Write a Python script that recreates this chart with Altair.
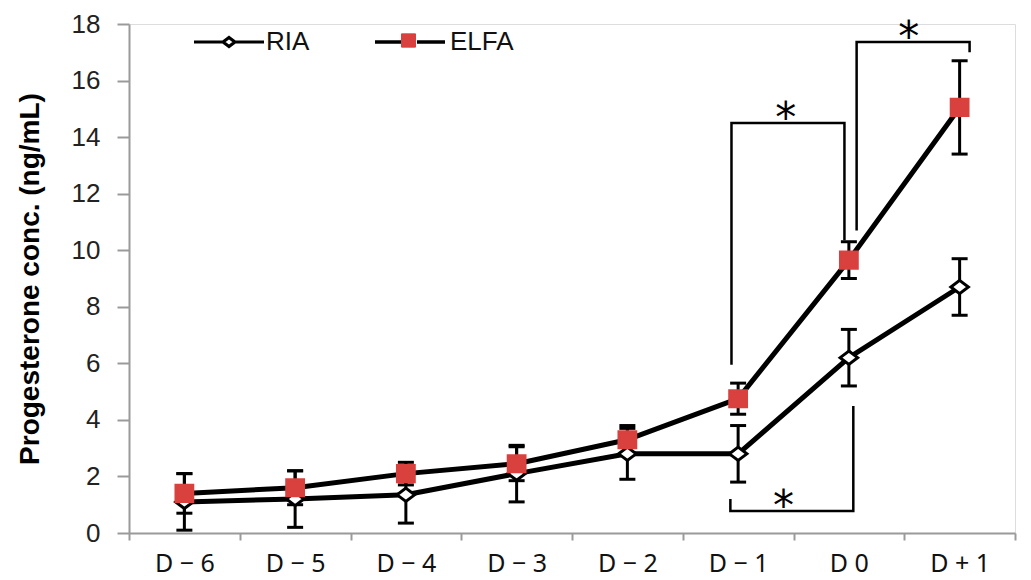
import altair as alt
import pandas as pd

# ---------------- data ----------------
days = ["D − 6", "D − 5", "D − 4", "D − 3", "D − 2", "D − 1", "D 0", "D + 1"]
series_names = ["RIA", "ELFA"]
ria_mean = [1.1, 1.2, 1.35, 2.1, 2.8, 2.8, 6.2, 8.7]
ria_err = [1.0, 1.0, 1.0, 1.0, 0.9, 1.0, 1.0, 1.0]
elfa_mean = [1.4, 1.6, 2.1, 2.45, 3.3, 4.75, 9.65, 15.05]
elfa_err = [0.7, 0.6, 0.4, 0.6, 0.5, 0.55, 0.65, 1.65]
y_ticks = [0, 2, 4, 6, 8, 10, 12, 14, 16, 18]

# significance brackets (x in day-index units, y in ng/mL)
bracket_x = [[4.94, 4.94, 5.96, 5.96], [6.07, 6.07, 7.09, 7.09], [4.93, 4.93, 6.04, 6.04]]
bracket_y = [[5.95, 14.5, 14.5, 10.35], [10.7, 17.36, 17.36, 17.0], [1.2, 0.78, 0.78, 4.49]]
star_x = [5.43, 6.54, 5.41]
star_y = [14.5, 17.36, 0.78]
star_text = ["*", "*", "*"]

# ---------------- tables ----------------
rows = []
for s, means, errs in [("RIA", ria_mean, ria_err), ("ELFA", elfa_mean, elfa_err)]:
    for i, (m, e) in enumerate(zip(means, errs)):
        rows.append({"series": s, "idx": i, "day": days[i], "mean": m, "lo": m - e, "hi": m + e})
df = pd.DataFrame(rows)
caps = df.melt(id_vars=["series", "idx"], value_vars=["lo", "hi"], value_name="cap")

br_rows = []
for b, (xs, ys) in enumerate(zip(bracket_x, bracket_y)):
    for k, (bx, by) in enumerate(zip(xs, ys)):
        br_rows.append({"bracket": b, "order": k, "bx": bx, "by": by})
brackets_df = pd.DataFrame(br_rows)
stars_df = pd.DataFrame({"sx": star_x, "sy": star_y, "label": star_text})

# ---------------- styling ----------------
W, H = 886, 509
band_px = W / len(days)
RED = "#d9413e"
GRAY = "#9a9a9a"
DIAMOND = "M0,-0.19L0.25,0L0,0.19L-0.25,0Z"
SQUARE = "M-0.24,-0.23H0.24V0.23H-0.24Z"
# legend symbols (unit box = 70 px)
LEG_RIA = "M-1,0H-0.17M0.17,0H1M0,-0.13L0.17,0L0,0.13L-0.17,0Z"
LEG_LINE = "M-1,0H-0.2M0.2,0H1"
LEG_SQUARE = "M-0.2,-0.19H0.2V0.19H-0.2Z"

label_expr = "[" + ",".join("'" + d + "'" for d in days) + ",''][round(datum.value + 0.5)]"

x_scale = alt.Scale(domain=[-0.5, len(days) - 0.5], nice=False, zero=False)
y_scale = alt.Scale(domain=[0, 18], nice=False, zero=True)

x_axis = alt.Axis(
    values=[i - 0.5 for i in range(len(days) + 1)],
    labelExpr=label_expr, labelOffset=band_px / 2,
    tickSize=7, tickColor=GRAY, tickWidth=2,
    domainColor=GRAY, domainWidth=2,
    labelFont="Noto Sans", labelFontSize=25, labelColor="#111",
    labelPadding=11, labelFlush=False, labelOverlap=False, grid=False, title=None,
)
YTITLE = "Progesterone conc. (ng/mL)"
y_axis = alt.Axis(
    values=y_ticks, tickSize=12, tickColor=GRAY, tickWidth=2,
    domainColor=GRAY, domainWidth=2,
    labelFont="Liberation Sans", labelFontSize=26, labelColor="#222", labelPadding=17,
    grid=False, title=YTITLE,
    titleFont="Liberation Sans", titleFontSize=28, titleFontWeight="bold",
    titleColor="#000", titlePadding=27,
)


def X(field):
    return alt.X(field, type="quantitative", scale=x_scale, axis=x_axis, title=None)


def Y(field):
    return alt.Y(field, type="quantitative", scale=y_scale, axis=y_axis, title=YTITLE)


common_legend = dict(
    orient="none", legendY=-19, direction="horizontal", title=None,
    symbolSize=4900, labelFont="Liberation Sans", labelFontSize=26, labelColor="#111",
    padding=0,
)
legend_ria = alt.Legend(values=["RIA"], legendX=63, symbolType=LEG_RIA,
                        symbolFillColor="#ffffff", symbolStrokeWidth=3.2,
                        labelOffset=0, **common_legend)
legend_elfa_line = alt.Legend(values=["ELFA"], legendX=244, symbolType=LEG_LINE,
                              symbolStrokeColor="#000000", symbolStrokeWidth=3.5,
                              labelOffset=3, **common_legend)
legend_elfa_sq = alt.Legend(values=["ELFA"], legendX=244, symbolType=LEG_SQUARE,
                            symbolStrokeColor=RED, symbolStrokeWidth=1,
                            labelOffset=3, labelExpr="''", **common_legend)

base = alt.Chart(df)

lines = base.transform_calculate(series_l="datum.series").mark_line(
    strokeWidth=5, strokeJoin="round"
).encode(
    x=X("idx"), y=Y("mean"),
    color=alt.Color("series:N", sort=series_names,
                    scale=alt.Scale(range=["#000000", "#000000"]), legend=legend_ria),
    opacity=alt.Opacity("series_l:O", sort=series_names,
                        scale=alt.Scale(range=[1, 1]), legend=legend_elfa_line),
)

rules = base.mark_rule(strokeWidth=3, color="black").encode(
    x=X("idx"), y=Y("lo"), y2="hi",
)

cap_marks = alt.Chart(caps).mark_tick(
    orient="horizontal", size=16, thickness=3, color="black", opacity=1
).encode(x=X("idx"), y=Y("cap"))

bracket_lines = alt.Chart(brackets_df).mark_line(
    color="black", strokeWidth=2.5, strokeJoin="miter", strokeCap="butt"
).encode(x=X("bx"), y=Y("by"), detail="bracket:N", order="order:Q")

star_marks = alt.Chart(stars_df).mark_text(
    font="DejaVu Sans", fontSize=42, baseline="alphabetic", align="center", dy=9, color="black"
).encode(x=X("sx"), y=Y("sy"), text="label:N")

points = base.transform_calculate(series_m="datum.series").mark_point(
    filled=True, opacity=1, strokeWidth=3, size=4900
).encode(
    x=X("idx"), y=Y("mean"),
    fill=alt.Fill("series_m:N", sort=series_names,
                  scale=alt.Scale(range=["#ffffff", RED]), legend=legend_elfa_sq),
    shape=alt.Shape("series_m:N", sort=series_names,
                    scale=alt.Scale(range=[DIAMOND, SQUARE]), legend=None),
    stroke=alt.Stroke("series_m:N", sort=series_names,
                      scale=alt.Scale(range=["#000000", RED]), legend=None),
)

chart = alt.layer(lines, rules, cap_marks, bracket_lines, star_marks, points).properties(
    width=W, height=H,
    autosize=alt.AutoSizeParams(type="none"),
    padding={"left": 121, "top": 16, "right": 8, "bottom": 47},
).configure_view(stroke=None).configure(background="white", font="Liberation Sans")

chart.save("out.html", embed_options={"renderer": "svg", "actions": False})
